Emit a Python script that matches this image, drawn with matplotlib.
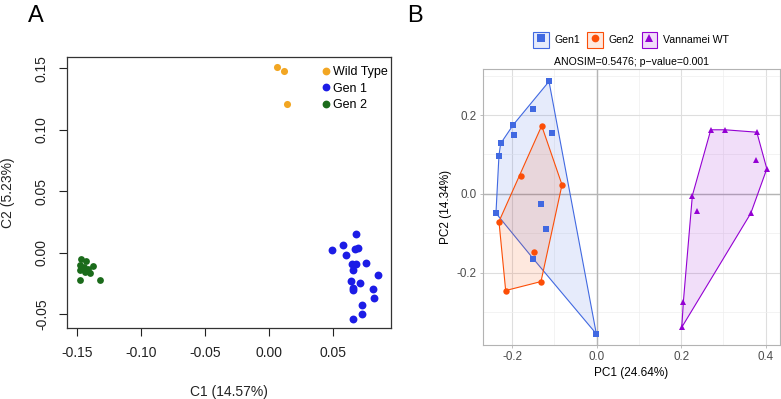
import numpy as np
import matplotlib.pyplot as plt
from matplotlib.lines import Line2D
from matplotlib.patches import Rectangle, Polygon
from matplotlib.colors import to_rgba

plt.rcParams['font.family'] = ['Liberation Sans', 'DejaVu Sans']

# ---- panel A : PCoA (C1 / C2) ----
wt_c1 = [0.0063, 0.0117, 0.0140]
wt_c2 = [0.1505, 0.1480, 0.1210]

gen1_c1 = [0.0495, 0.0578, 0.0602, 0.0672, 0.0698, 0.0680, 0.0646, 0.0677, 0.0758, 0.0654,
           0.0854, 0.0638, 0.0711, 0.0654, 0.0659, 0.0815, 0.0820, 0.0729, 0.0729, 0.0654]
gen1_c2 = [0.0024, 0.0063, -0.0019, 0.0030, 0.0038, 0.0152, -0.0092, -0.0092, -0.0087, -0.0146,
           -0.0187, -0.0233, -0.0246, -0.0287, -0.0303, -0.0295, -0.0368, -0.0423, -0.0498, -0.0539]

gen2_c1 = [-0.1469, -0.1430, -0.1380, -0.1477, -0.1451, -0.1412, -0.1482, -0.1438, -0.1398,
           -0.1482, -0.1320]
gen2_c2 = [-0.0051, -0.0071, -0.0106, -0.0098, -0.0114, -0.0133, -0.0146, -0.0160, -0.0165,
           -0.0222, -0.0222]

a_xticks = [-0.15, -0.10, -0.05, 0.00, 0.05]
a_yticks = [-0.05, 0.00, 0.05, 0.10, 0.15]

# ---- panel B : PCA with hulls ----
g1_pc1 = [-0.1130, -0.1502, -0.1976, -0.1953, -0.1066, -0.2275, -0.2315, -0.2386, -0.1320,
          -0.1201, -0.1502, -0.0009]
g1_pc2 = [0.2854, 0.2142, 0.1753, 0.1482, 0.1540, 0.1278, 0.0973, -0.0493, -0.0254,
          -0.0889, -0.1650, -0.3558]

g2_pc1 = [-0.1303, -0.1794, -0.0822, -0.2315, -0.1493, -0.1320, -0.2156]
g2_pc2 = [0.1728, 0.0465, 0.0229, -0.0704, -0.1484, -0.2229, -0.2457]

vw_pc1 = [0.2701, 0.3040, 0.3791, 0.3768, 0.4028, 0.2265, 0.2384, 0.3649, 0.2052, 0.2014]
vw_pc2 = [0.1626, 0.1626, 0.1565, 0.0864, 0.0635, -0.0043, -0.0424, -0.0493, -0.2737, -0.3390]

b_xticks = [-0.2, 0.0, 0.2, 0.4]
b_yticks = [-0.2, 0.0, 0.2]


def hull(xs, ys):
    pts = sorted(zip(xs, ys))

    def cross(o, a, b):
        return (a[0] - o[0]) * (b[1] - o[1]) - (a[1] - o[1]) * (b[0] - o[0])

    lower, upper = [], []
    for p in pts:
        while len(lower) >= 2 and cross(lower[-2], lower[-1], p) <= 0:
            lower.pop()
        lower.append(p)
    for p in reversed(pts):
        while len(upper) >= 2 and cross(upper[-2], upper[-1], p) <= 0:
            upper.pop()
        upper.append(p)
    return np.array(lower[:-1] + upper[:-1])


W, H = 781, 399
fig = plt.figure(figsize=(W / 100, H / 100), dpi=100)

# ================= panel A =================
ax = fig.add_axes([67 / W, (H - 328) / H, 324 / W, 271 / H])
c_wt, c_g1, c_g2 = '#f2a623', '#1c1ce6', '#1b6b1b'
ax.scatter(wt_c1, wt_c2, s=26, color=c_wt, lw=0, zorder=3)
ax.scatter(gen1_c1, gen1_c2, s=32, color=c_g1, lw=0, zorder=3)
ax.scatter(gen2_c1, gen2_c2, s=24, color=c_g2, lw=0, zorder=3)
ax.set_xlim(-0.158, 0.0953)
ax.set_ylim(-0.0614, 0.159)
ax.set_xticks(a_xticks)
ax.set_yticks(a_yticks)
ax.set_xticklabels(['%.2f' % v for v in a_xticks])
ax.set_yticklabels(['%.2f' % v for v in a_yticks], rotation=90, va='center')
ax.tick_params(direction='out', length=6, width=0.8, labelsize=10, pad=7, colors='#222222')
for s in ax.spines.values():
    s.set_linewidth(0.9)
    s.set_color('#333333')
ax.set_xlabel('C1 (14.57%)', fontsize=10, labelpad=18, color='#222222')
ax.set_ylabel('C2 (5.23%)', fontsize=10, labelpad=14, color='#222222')

hA = [Line2D([], [], marker='o', ls='', color=c, markersize=4.6) for c in (c_wt, c_g1, c_g2)]
ax.legend(hA, ['Wild Type', 'Gen 1', 'Gen 2'], loc='upper left', bbox_to_anchor=(0.79, 0.965),
          frameon=False, fontsize=9, handlelength=0.5, handletextpad=0.3, labelspacing=0.35,
          borderpad=0, borderaxespad=0)

fig.text(28 / W, 1 - 22 / H, 'A', fontsize=17, va='baseline')
fig.text(407 / W, 1 - 22 / H, 'B', fontsize=17, va='baseline')

# ================= panel B =================
bx = fig.add_axes([482.7 / W, (H - 345) / H, 297.3 / W, 276 / H])
groups = [
    ('Gen1', g1_pc1, g1_pc2, '#4169e1', 's', 4.3),
    ('Gen2', g2_pc1, g2_pc2, '#fc4e07', 'o', 4.6),
    ('Vannamei WT', vw_pc1, vw_pc2, '#9400d3', '^', 5.0),
]
handles = []
for name, xs, ys, col, mk, ms in groups:
    hp = hull(xs, ys)
    bx.add_patch(Polygon(hp, closed=True, facecolor=to_rgba(col, 0.13), edgecolor=col,
                         lw=0.8, zorder=2))
    bx.plot(xs, ys, ls='', marker=mk, markersize=ms, color=col, mew=0, zorder=3)
    box = Rectangle((0, 0), 1, 1, facecolor=to_rgba(col, 0.13), edgecolor=col, lw=0.8)
    handles.append((box, Line2D([], [], ls='', marker=mk, markersize=ms * 1.2, color=col, mew=0)))

bx.set_xlim(-0.270, 0.434)
bx.set_ylim(-0.384, 0.317)
bx.set_xticks(b_xticks)
bx.set_yticks(b_yticks)
bx.set_xticks([-0.1, 0.1, 0.3], minor=True)
bx.set_yticks([-0.3, -0.1, 0.1, 0.3], minor=True)
bx.set_xticklabels(['%.1f' % v for v in b_xticks])
bx.set_yticklabels(['%.1f' % v for v in b_yticks])
bx.grid(which='major', color='#dedede', lw=0.8, zorder=0)
bx.grid(which='minor', color='#eeeeee', lw=0.5, zorder=0)
bx.axhline(0, color='#b5b5b5', lw=1.0, zorder=1)
bx.axvline(0, color='#b5b5b5', lw=1.0, zorder=1)
bx.set_axisbelow(True)
bx.tick_params(which='major', direction='out', length=2.5, width=0.6, color='#b3b3b3',
               labelcolor='#4d4d4d', labelsize=8.4, pad=2)
bx.tick_params(which='minor', length=0)
for s in bx.spines.values():
    s.set_linewidth(0.8)
    s.set_color('#b3b3b3')
bx.set_xlabel('PC1 (24.64%)', fontsize=8.5, labelpad=3)
bx.set_ylabel('PC2 (14.34%)', fontsize=8.5, labelpad=3)
bx.set_title('ANOSIM=0.5476; p\u2212value=0.001', fontsize=7.6, pad=3)

fig.legend(handles, [g[0] for g in groups], loc='center', bbox_to_anchor=(631 / W, 1 - 40 / H),
           ncol=3, frameon=False, fontsize=7.6, handlelength=1.45, handleheight=1.9,
           handletextpad=0.55, columnspacing=0.7, borderpad=0)

fig.savefig('out.png', dpi=100)
